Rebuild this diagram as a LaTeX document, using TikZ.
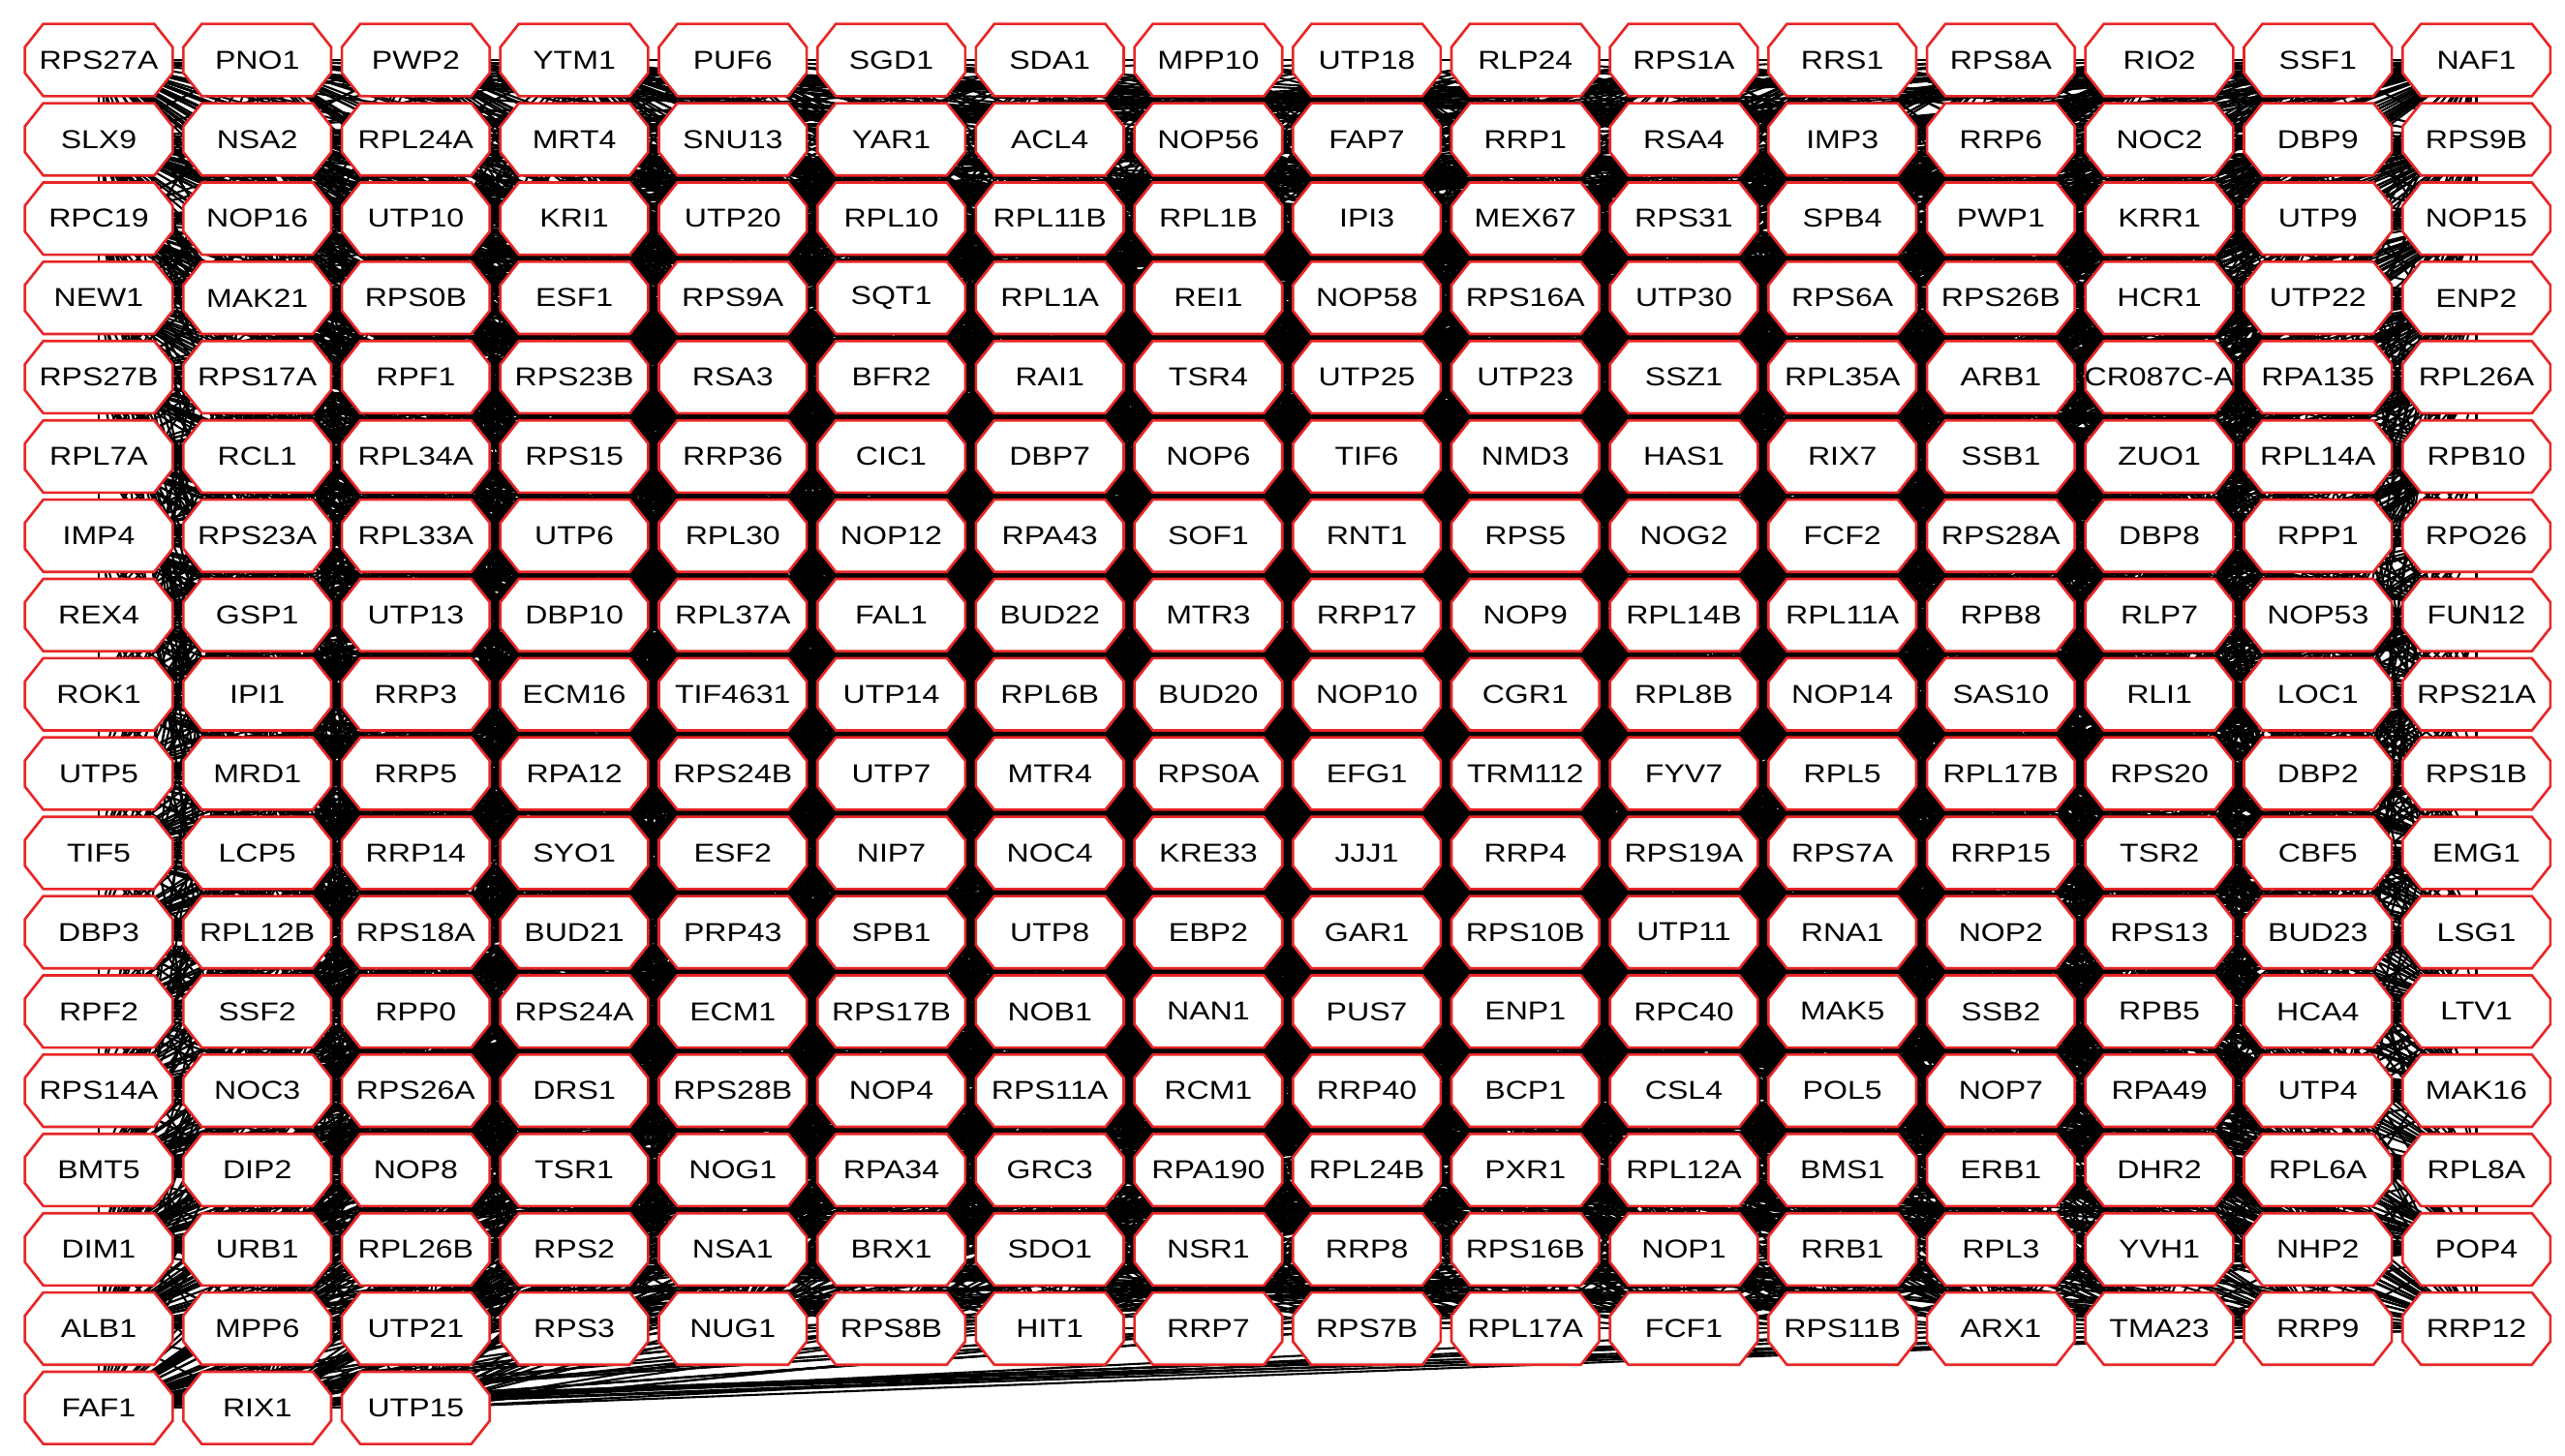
\documentclass[tikz,border=0pt]{standalone}
\usepackage{fontspec}
\setmainfont[FakeStretch=1.2]{Liberation Sans}
\usepackage{tikz}
\usetikzlibrary{
	backgrounds
}
\definecolor{protred}{RGB}{232,38,38}

% octagon with flat top and bottom
\newdimen\octL \newdimen\octR \newdimen\octB \newdimen\octT
\newdimen\octLi \newdimen\octRi \newdimen\octBi \newdimen\octTi
\def\octdx{0.19cm}
\def\octdy{0.24cm}
\makeatletter
\pgfdeclareshape{octobox}{
	\inheritsavedanchors[from=rectangle]
	\inheritanchorborder[from=rectangle]
	\inheritanchor[from=rectangle]{center}
	\inheritanchor[from=rectangle]{text}
	\inheritanchor[from=rectangle]{base}
	\inheritanchor[from=rectangle]{mid}
	\inheritanchor[from=rectangle]{north}
	\inheritanchor[from=rectangle]{south}
	\inheritanchor[from=rectangle]{east}
	\inheritanchor[from=rectangle]{west}
	\backgroundpath{%
		\southwest \octL=\pgf@x \octB=\pgf@y
		\northeast \octR=\pgf@x \octT=\pgf@y
		\octLi=\octL \advance\octLi by \octdx
		\octRi=\octR \advance\octRi by -\octdx
		\octBi=\octB \advance\octBi by \octdy
		\octTi=\octT \advance\octTi by -\octdy
		\pgfpathmoveto{\pgfqpoint{\octL}{\octBi}}
		\pgfpathlineto{\pgfqpoint{\octL}{\octTi}}
		\pgfpathlineto{\pgfqpoint{\octLi}{\octT}}
		\pgfpathlineto{\pgfqpoint{\octRi}{\octT}}
		\pgfpathlineto{\pgfqpoint{\octR}{\octTi}}
		\pgfpathlineto{\pgfqpoint{\octR}{\octBi}}
		\pgfpathlineto{\pgfqpoint{\octRi}{\octB}}
		\pgfpathlineto{\pgfqpoint{\octLi}{\octB}}
		\pgfpathclose
	}
}
\makeatother

\begin{document}
\begin{tikzpicture}[
			font=\fontsize{7.6}{9}\selectfont,
			prot/.style={octobox, draw=protred, fill=white, line width=0.75pt, minimum width=1.5cm, minimum height=0.72cm, inner sep=0pt},
			ln/.style={line width=0.6pt, black}
		]

		\useasboundingbox (0,0) rectangle (26.49,-15.04);

		% proteins, 16 per row
		\foreach \nm [count=\i from 0] in {
			RPS27A, PNO1, PWP2, YTM1, PUF6, SGD1, SDA1, MPP10, UTP18, RLP24, RPS1A, RRS1, RPS8A, RIO2, SSF1, NAF1,
			SLX9, NSA2, RPL24A, MRT4, SNU13, YAR1, ACL4, NOP56, FAP7, RRP1, RSA4, IMP3, RRP6, NOC2, DBP9, RPS9B,
			RPC19, NOP16, UTP10, KRI1, UTP20, RPL10, RPL11B, RPL1B, IPI3, MEX67, RPS31, SPB4, PWP1, KRR1, UTP9, NOP15,
			NEW1, MAK21, RPS0B, ESF1, RPS9A, SQT1, RPL1A, REI1, NOP58, RPS16A, UTP30, RPS6A, RPS26B, HCR1, UTP22, ENP2,
			RPS27B, RPS17A, RPF1, RPS23B, RSA3, BFR2, RAI1, TSR4, UTP25, UTP23, SSZ1, RPL35A, ARB1, CR087C-A, RPA135, RPL26A,
			RPL7A, RCL1, RPL34A, RPS15, RRP36, CIC1, DBP7, NOP6, TIF6, NMD3, HAS1, RIX7, SSB1, ZUO1, RPL14A, RPB10,
			IMP4, RPS23A, RPL33A, UTP6, RPL30, NOP12, RPA43, SOF1, RNT1, RPS5, NOG2, FCF2, RPS28A, DBP8, RPP1, RPO26,
			REX4, GSP1, UTP13, DBP10, RPL37A, FAL1, BUD22, MTR3, RRP17, NOP9, RPL14B, RPL11A, RPB8, RLP7, NOP53, FUN12,
			ROK1, IPI1, RRP3, ECM16, TIF4631, UTP14, RPL6B, BUD20, NOP10, CGR1, RPL8B, NOP14, SAS10, RLI1, LOC1, RPS21A,
			UTP5, MRD1, RRP5, RPA12, RPS24B, UTP7, MTR4, RPS0A, EFG1, TRM112, FYV7, RPL5, RPL17B, RPS20, DBP2, RPS1B,
			TIF5, LCP5, RRP14, SYO1, ESF2, NIP7, NOC4, KRE33, JJJ1, RRP4, RPS19A, RPS7A, RRP15, TSR2, CBF5, EMG1,
			DBP3, RPL12B, RPS18A, BUD21, PRP43, SPB1, UTP8, EBP2, GAR1, RPS10B, UTP11, RNA1, NOP2, RPS13, BUD23, LSG1,
			RPF2, SSF2, RPP0, RPS24A, ECM1, RPS17B, NOB1, NAN1, PUS7, ENP1, RPC40, MAK5, SSB2, RPB5, HCA4, LTV1,
			RPS14A, NOC3, RPS26A, DRS1, RPS28B, NOP4, RPS11A, RCM1, RRP40, BCP1, CSL4, POL5, NOP7, RPA49, UTP4, MAK16,
			BMT5, DIP2, NOP8, TSR1, NOG1, RPA34, GRC3, RPA190, RPL24B, PXR1, RPL12A, BMS1, ERB1, DHR2, RPL6A, RPL8A,
			DIM1, URB1, RPL26B, RPS2, NSA1, BRX1, SDO1, NSR1, RRP8, RPS16B, NOP1, RRB1, RPL3, YVH1, NHP2, POP4,
			ALB1, MPP6, UTP21, RPS3, NUG1, RPS8B, HIT1, RRP7, RPS7B, RPL17A, FCF1, RPS11B, ARX1, TMA23, RRP9, RRP12,
			FAF1, RIX1, UTP15}{
			\pgfmathsetmacro\cx{1.02+1.637*mod(\i,16)}
			\pgfmathsetmacro\cy{-0.62-0.819*div(\i,16)}
			\node[prot] (p\i) at (\cx,\cy) {\makebox[1cm]{\nm}};
		}

		% interactions
		\begin{scope}[on background layer]
			% near neighbours
			\foreach \i in {0,...,274}{
				\foreach \d in {1,2,3,14,15,16,17,18,30,31,32,33,34,47,49}{
					\pgfmathtruncatemacro\j{\i+\d}
					\ifnum\j<275 \draw[ln] (p\i.center) -- (p\j.center); \fi
				}
			}
			% the rest
			\pgfmathsetseed{2649}
			\foreach \k in {1,...,6500}{
				\pgfmathrandominteger{\a}{0}{274}
				\pgfmathrandominteger{\b}{0}{274}
				\draw[ln] (p\a.center) -- (p\b.center);
			}
		\end{scope}
	\end{tikzpicture}
\end{document}
